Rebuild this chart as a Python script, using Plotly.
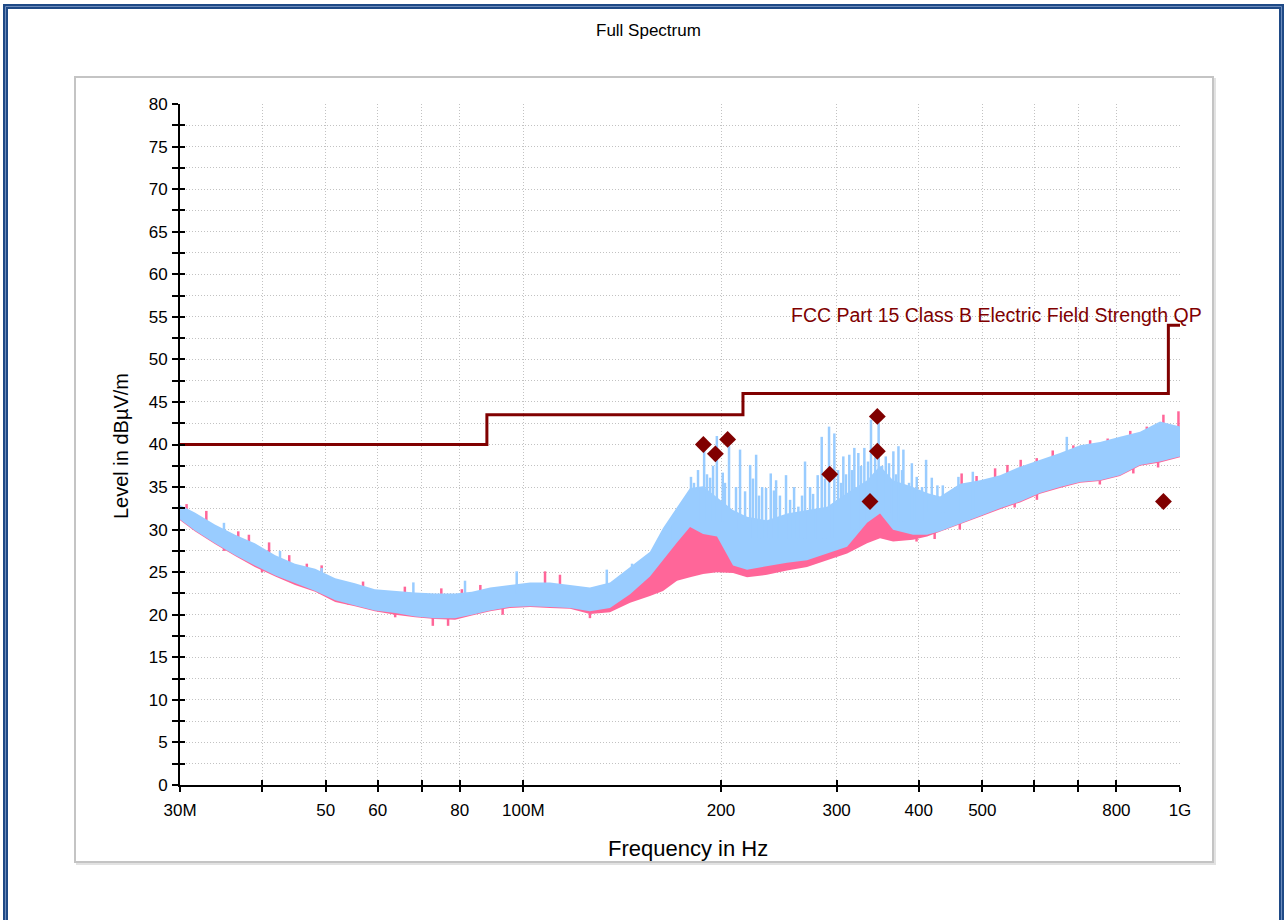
import plotly.graph_objects as go

# ---------------------------------------------------------------------------
# Measured spectrum (MHz / dBµV/m): envelope of each sweep at sample frequencies
# ---------------------------------------------------------------------------
freq_mhz = [
    30.0, 31.6, 33.9, 36.4, 39.0,
    41.9, 44.9, 48.2, 51.7, 55.4,
    59.4, 63.8, 68.4, 73.4, 78.7,
    83.5, 89.0, 95.4, 102.4, 109.8,
    117.8, 126.3, 135.5, 145.4, 155.9,
    163.2, 171.4, 179.4, 187.8, 197.2,
    208.6, 219.1, 235.0, 252.1, 270.4,
    290.1, 311.2, 333.8, 349.3, 365.6,
    392.1, 411.9, 431.1, 462.4, 496.1,
    532.1, 570.7, 612.1, 656.6, 704.3,
    755.5, 810.3, 869.3, 932.4, 1000.0,
]

# Horizontal polarisation sweep (light blue)
blue_upper = [
    32.9, 32.0, 30.6, 29.4, 28.4,
    27.0, 26.0, 25.4, 24.3, 23.7,
    23.0, 22.8, 22.6, 22.5, 22.5,
    22.7, 23.2, 23.5, 23.8, 23.8,
    23.5, 23.2, 23.8, 25.6, 27.4,
    30.2, 32.6, 34.9, 35.1, 33.8,
    32.3, 31.5, 31.1, 31.9, 32.3,
    32.7, 34.3, 35.8, 37.5, 35.8,
    35.0, 34.3, 33.9, 35.4, 35.8,
    36.4, 37.4, 38.2, 39.0, 39.9,
    40.3, 40.9, 41.5, 42.7, 42.1,
]
blue_lower = [
    31.2, 29.9, 28.4, 27.0, 25.8,
    24.6, 23.7, 22.8, 21.7, 21.1,
    20.5, 20.2, 19.8, 19.6, 19.6,
    20.0, 20.5, 20.9, 21.0, 20.9,
    20.8, 20.4, 20.8, 22.4, 24.5,
    26.5, 28.5, 30.3, 29.5, 29.2,
    25.8, 25.3, 25.7, 26.1, 26.4,
    27.2, 28.0, 30.8, 31.9, 30.0,
    29.4, 29.4, 29.8, 30.7, 31.6,
    32.5, 33.3, 34.3, 35.0, 35.6,
    35.8, 36.4, 37.6, 38.0, 38.6,
]

# Vertical polarisation sweep (pink)
pink_upper = [
    32.7, 31.8, 30.4, 29.2, 28.2,
    26.8, 25.8, 25.2, 24.1, 23.5,
    22.8, 22.6, 22.4, 22.3, 22.3,
    22.5, 23.0, 23.3, 23.6, 23.6,
    23.3, 23.0, 23.5, 25.0, 25.5,
    27.5, 29.5, 30.8, 30.5, 29.8,
    27.8, 26.5, 26.3, 27.0, 27.5,
    28.3, 29.3, 31.2, 32.2, 30.5,
    30.0, 31.0, 33.7, 35.2, 35.6,
    36.2, 37.2, 38.0, 38.8, 39.7,
    40.1, 40.7, 41.3, 42.5, 41.9,
]
pink_lower = [
    31.1, 29.8, 28.3, 26.9, 25.6,
    24.5, 23.5, 22.7, 21.5, 21.0,
    20.4, 20.0, 19.7, 19.5, 19.4,
    19.9, 20.4, 20.8, 20.9, 20.8,
    20.7, 20.1, 20.3, 21.4, 22.2,
    22.8, 24.0, 24.4, 24.8, 25.0,
    24.9, 24.4, 24.7, 25.2, 25.6,
    26.4, 27.2, 28.4, 29.0, 28.6,
    28.8, 29.2, 29.7, 30.6, 31.5,
    32.4, 33.2, 34.2, 34.9, 35.5,
    35.7, 36.3, 37.5, 37.9, 38.5,
]

# Narrow-band emissions on the blue sweep: frequency, peak level, level at foot
blue_spike_freq = [
    35.0, 42.6, 49.3, 68.0, 81.5, 97.7, 134.0, 146.4, 167.3,
    180.0, 181.9, 184.5, 188.5, 190.4, 192.5, 194.5, 197.1, 201.2,
    202.8, 205.7, 210.8, 213.8, 217.6,
    221.5, 223.7, 226.2, 228.5, 231.0, 234.2, 238.1, 240.8, 242.6,
    245.9, 251.2, 254.8, 258.4, 262.3, 265.7, 268.5, 273.3, 276.2,
    280.7, 284.7, 288.0, 292.1, 297.6, 301.5, 304.7, 307.1, 310.0,
    313.6, 316.6, 319.2, 323.7, 326.8, 330.6, 334.9, 338.4, 343.3,
    347.6, 351.8, 356.4, 360.5, 366.0, 369.5, 372.6, 377.3, 379.1,
    386.7, 390.5, 397.3, 404.7,
    410.5, 418.8, 427.1, 435.3, 459.8, 483.6, 672.4,
]
blue_spike_peak = [
    30.8, 27.5, 25.5, 23.8, 24.0, 25.1, 25.3, 26.0, 30.5,
    36.2, 35.5, 37.0, 39.5, 36.5, 36.1, 37.5, 41.0, 36.7,
    35.5, 39.8, 35.0, 39.4, 34.5,
    37.6, 36.0, 38.8, 34.0, 35.0, 34.9, 36.6, 34.6, 35.8,
    34.0, 36.4, 33.5, 35.0, 32.7, 34.0, 38.0, 35.0, 34.2,
    36.4, 40.9, 36.0, 42.1, 41.3, 37.0, 35.5, 38.6, 36.5,
    38.8, 37.0, 39.6, 39.0, 37.5, 39.6, 38.0, 42.9, 38.5,
    42.5, 37.5, 38.6, 37.8, 39.2, 36.5, 39.8, 37.0, 39.4,
    35.5, 37.8, 36.2, 35.0,
    38.2, 36.1, 35.2, 35.2, 36.2, 36.8, 40.9,
]
blue_spike_foot = [
    29.5, 26.0, 24.0, 21.5, 21.5, 22.5, 22.5, 24.0, 28.5,
    31.0, 31.0, 31.0, 31.0, 31.0, 31.0, 31.0, 31.0, 31.0,
    31.0, 31.0, 30.0, 30.0, 29.0,
    29.0, 29.0, 29.0, 29.0, 29.0, 29.0, 29.0, 29.0, 29.0,
    29.0, 29.0, 29.0, 29.0, 29.0, 29.0, 29.0, 29.0, 29.0,
    29.0, 29.0, 29.0, 29.0, 29.0, 29.0, 29.0, 29.0, 29.0,
    30.0, 30.0, 30.0, 30.0, 31.0, 31.0, 32.0, 32.0, 33.0,
    33.0, 33.0, 32.0, 32.0, 31.0, 31.0, 31.0, 31.0, 31.0,
    31.0, 31.0, 31.0, 31.0,
    32.0, 32.0, 32.0, 32.0, 32.0, 32.0, 37.0,
]

# Isolated excursions of the pink sweep beyond the blue one
pink_spike_freq = [
    30.7, 32.9, 35.0, 36.8, 38.2, 40.0, 41.0, 44.0, 46.8, 49.3,
    54.1, 57.0, 63.8, 66.0, 72.8, 75.0, 76.8, 80.6, 86.0, 93.0,
    107.9, 113.7, 126.3,
    397.0, 423.0, 462.0, 465.0, 490.0, 522.9, 546.0, 560.0, 572.0,
    605.1, 605.5, 640.0, 688.0, 729.7, 755.0, 776.0, 840.0, 849.0,
    890.1, 926.0, 943.5, 994.6,
]
pink_spike_tip = [
    33.0, 32.2, 27.5, 29.8, 29.4, 25.0, 28.5, 27.0, 26.0, 25.8,
    21.2, 23.9, 19.7, 23.3, 18.7, 23.1, 18.7, 23.0, 23.5, 20.0,
    25.1, 24.7, 19.6,
    28.6, 28.9, 30.0, 36.6, 36.3, 37.2, 37.6, 32.6, 38.2,
    38.4, 33.5, 39.3, 39.9, 40.5, 35.3, 40.7, 41.6, 36.6,
    42.1, 37.3, 43.5, 43.9,
]
pink_spike_foot = [
    31.5, 31.0, 29.0, 28.0, 27.5, 26.5, 26.5, 25.5, 24.5, 24.0,
    23.0, 22.5, 21.5, 21.5, 20.5, 21.5, 20.5, 21.5, 22.0, 21.5,
    22.5, 22.5, 21.0,
    30.0, 30.5, 31.5, 34.5, 34.5, 35.5, 35.5, 34.0, 36.5,
    37.0, 35.0, 37.5, 38.0, 38.5, 36.5, 39.0, 40.0, 38.0,
    40.5, 39.0, 41.5, 41.5,
]

# Quasi-peak final measurements
qp_freq_mhz = [188.0, 196.1, 204.7, 292.8, 337.2, 346.0, 346.0, 943.6]
qp_level = [40.0, 38.9, 40.6, 36.5, 33.3, 43.3, 39.2, 33.3]

# FCC Part 15 Class B radiated limit (3 m), level applies from each frequency on
limit_freq_mhz = [30, 88, 216, 960, 1000]
limit_level = [40.0, 43.5, 46.0, 54.0, 54.0]

# Axis ticks
x_tick_mhz = [30, 40, 50, 60, 70, 80, 100, 200, 300, 400, 500, 600, 700, 800, 1000]
x_tick_text = ["30M", "", "50", "60", "", "80", "100M", "200", "300", "400",
               "500", "", "", "800", "1G"]
y_tick_vals = [i * 2.5 for i in range(33)]
y_tick_text = [f"{v:g}" if v % 5 == 0 else "" for v in y_tick_vals]

# ---------------------------------------------------------------------------
BLUE = "#99ccff"
PINK = "#ff6699"
DARK_RED = "#800000"
FONT = "Liberation Sans, Arial, sans-serif"

MHZ = 1e6


def hz(values):
    return [v * MHZ for v in values]


def band(freqs, upper, lower, color):
    return go.Scatter(
        x=hz(freqs) + hz(freqs[::-1]),
        y=list(upper) + list(lower[::-1]),
        mode="lines", fill="toself", fillcolor=color,
        line=dict(width=0, color=color),
        hoverinfo="skip", showlegend=False,
    )


def spikes(freqs, tips, feet, color, width):
    xs, ys = [], []
    for f, t, b in zip(freqs, tips, feet):
        xs += [f * MHZ, f * MHZ, None]
        ys += [b, t, None]
    return go.Scatter(x=xs, y=ys, mode="lines",
                      line=dict(color=color, width=width),
                      hoverinfo="skip", showlegend=False)


fig = go.Figure()
fig.add_trace(band(freq_mhz, pink_upper, pink_lower, PINK))
fig.add_trace(spikes(pink_spike_freq, pink_spike_tip, pink_spike_foot, PINK, 2.5))
fig.add_trace(band(freq_mhz, blue_upper, blue_lower, BLUE))
fig.add_trace(spikes(blue_spike_freq, blue_spike_peak, blue_spike_foot, BLUE, 2.5))

fig.add_trace(go.Scatter(
    x=hz(limit_freq_mhz), y=limit_level, mode="lines",
    line=dict(color=DARK_RED, width=3, shape="hv"),
    showlegend=False, hoverinfo="skip",
))
fig.add_trace(go.Scatter(
    x=hz(qp_freq_mhz), y=qp_level, mode="markers",
    marker=dict(symbol="diamond", size=13, color=DARK_RED),
    showlegend=False,
))
# Invisible trace bound to the overlay axes so their inner ticks are rendered
fig.add_trace(go.Scatter(x=[30 * MHZ], y=[0], xaxis="x2", yaxis="y2",
                         mode="markers", marker=dict(opacity=0),
                         showlegend=False, hoverinfo="skip"))

W, H = 1285, 920
L, R, T, B = 180, 105, 104, 135
PW, PH = W - L - R, H - T - B


def px(x):
    return (x - L) / PW


def py(y):
    return (H - B - y) / PH


x_range = [7.47712125, 9.0]
tick_font = dict(family=FONT, size=17, color="black")
GRID = dict(showgrid=True, gridcolor="#c2c2c2", griddash="1px,2px", gridwidth=1)

fig.update_layout(
    width=W, height=H,
    margin=dict(l=L, r=R, t=T, b=B, pad=0),
    paper_bgcolor="white", plot_bgcolor="white",
    showlegend=False,
    xaxis=dict(
        type="log", range=x_range,
        tickmode="array", tickvals=hz(x_tick_mhz), ticktext=x_tick_text,
        ticks="outside", ticklen=5, tickwidth=1.5, tickcolor="black",
        tickfont=tick_font, ticklabelstandoff=4,
        showline=True, linecolor="black", linewidth=2,
        zeroline=False, layer="above traces", **GRID,
    ),
    yaxis=dict(
        range=[0, 80],
        tickmode="array", tickvals=y_tick_vals, ticktext=y_tick_text,
        ticks="outside", ticklen=6, tickwidth=1.5, tickcolor="black",
        tickfont=tick_font, ticklabelstandoff=1,
        showline=True, linecolor="black", linewidth=2,
        zeroline=False, layer="above traces", **GRID,
    ),
    xaxis2=dict(
        type="log", range=x_range, overlaying="x", anchor="y", side="bottom",
        tickmode="array", tickvals=hz(x_tick_mhz),
        ticks="inside", ticklen=5, tickwidth=1.5, tickcolor="black",
        showticklabels=False, showgrid=False, showline=False, zeroline=False,
    ),
    yaxis2=dict(
        range=[0, 80], overlaying="y", anchor="x", side="left",
        tickmode="array", tickvals=y_tick_vals,
        ticks="inside", ticklen=5, tickwidth=1.5, tickcolor="black",
        showticklabels=False, showgrid=False, showline=False, zeroline=False,
    ),
    shapes=[
        # chart frame with its soft shadow
        dict(type="rect", xref="paper", yref="paper", layer="below",
             x0=px(77), x1=px(1215), y0=py(864), y1=py(79),
             line=dict(color="#e2e2e2", width=2)),
        dict(type="rect", xref="paper", yref="paper", layer="below",
             x0=px(75), x1=px(1213), y0=py(862), y1=py(77),
             line=dict(color="#c4c4c4", width=2), fillcolor="white"),
        # outer window border
        dict(type="rect", xref="paper", yref="paper", layer="above",
             x0=px(5.5), x1=px(1281.5), y0=py(940), y1=py(6.5),
             line=dict(color="#1f4a86", width=5)),
        dict(type="rect", xref="paper", yref="paper", layer="above",
             x0=px(5.5), x1=px(1281.5), y0=py(940), y1=py(6.5),
             line=dict(color="#6d8cbc", width=1)),
    ],
    annotations=[
        dict(text="Full Spectrum", xref="paper", yref="paper",
             x=px(648), y=py(30), xanchor="center", yanchor="middle",
             showarrow=False, font=dict(family=FONT, size=17, color="black")),
        dict(text="Level in dBµV/m", xref="paper", yref="paper",
             x=px(121), y=py(446), xanchor="center", yanchor="middle",
             textangle=-90, showarrow=False,
             font=dict(family=FONT, size=20, color="black")),
        dict(text="Frequency in Hz", xref="paper", yref="paper",
             x=px(688), y=py(848), xanchor="center", yanchor="middle",
             showarrow=False, font=dict(family=FONT, size=22, color="black")),
        dict(text="FCC Part 15 Class B Electric Field Strength QP",
             xref="paper", yref="paper", x=px(1204), y=py(315),
             xanchor="right", yanchor="middle", showarrow=False,
             font=dict(family=FONT, size=19.5, color=DARK_RED)),
    ],
)

fig.write_html("out.html")
